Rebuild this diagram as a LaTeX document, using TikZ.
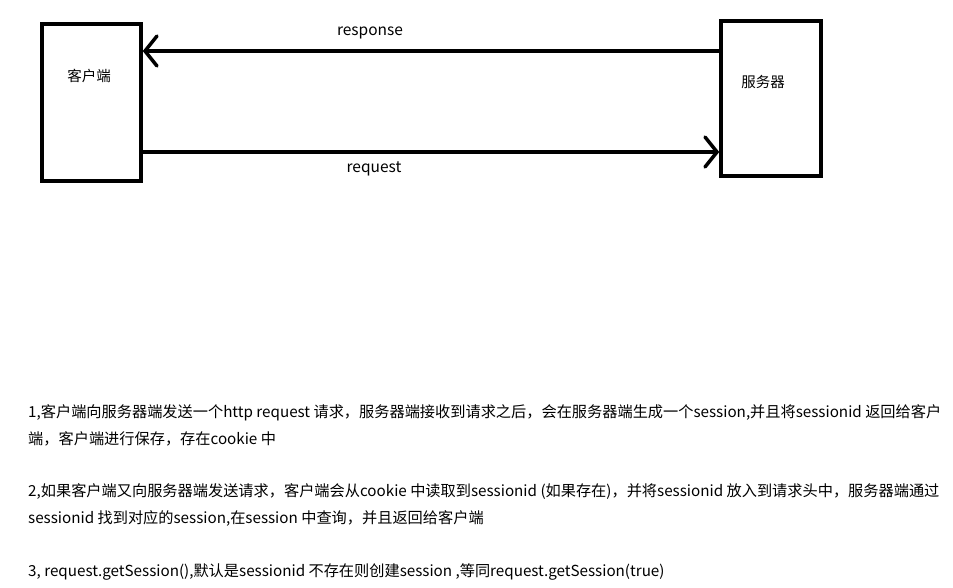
\documentclass[tikz,border=0pt]{standalone}
\usepackage{fontspec}
\setmainfont{Noto Sans CJK SC}
\usetikzlibrary{arrows.meta}
\begin{document}
\begin{tikzpicture}[x=1pt,y=-1pt,
  box/.style={draw,line width=3.5pt,minimum width=#1,inner sep=0pt},
  conn/.style={line width=3.5pt,-{Straight Barb[length=12pt,width=30pt,line width=3.5pt,line cap=round]}},
  lbl/.style={font=\fontsize{14.5}{16}\selectfont,inner sep=0pt},
  wlbl/.style={font=\fontsize{15.5}{16}\selectfont,inner sep=0pt},
  txt/.style={font=\fontsize{15.2}{16}\selectfont,anchor=west,inner sep=0pt}]
\useasboundingbox (0,0) rectangle (953,587);
\node[box=99pt,minimum height=157pt] (cli) at (91.5,102.5) {};
\node[box=100pt,minimum height=155pt] (srv) at (771,98.5) {};
\node[lbl] (clit) at (89,76) {客户端};
\node[lbl] (srvt) at (763,82) {服务器};
\coordinate (ry) at (0,51);
\coordinate (qy) at (0,152);
\draw[conn] (srv.west |- ry) -- (cli.east |- ry);
\draw[conn] (cli.east |- qy) -- (srv.west |- qy);
\node[wlbl] (resp) at (370,33) {response};
\node[wlbl] (req) at (374,169) {request};
\node[txt] (t1) at (28,413) {1,客户端向服务器端发送一个http request 请求，服务器端接收到请求之后，会在服务器端生成一个session,并且将sessionid 返回给客户};
\node[txt] (t2) at (28,439) {端，客户端进行保存，存在cookie 中};
\node[txt] (t3) at (28,492) {2,如果客户端又向服务器端发送请求，客户端会从cookie 中读取到sessionid (如果存在)，并将sessionid 放入到请求头中，服务器端通过};
\node[txt] (t4) at (28,518) {sessionid 找到对应的session,在session 中查询，并且返回给客户端};
\node[txt] (t5) at (28,572) {3, request.getSession(),默认是sessionid 不存在则创建session ,等同request.getSession(true)};
\end{tikzpicture}
\end{document}
